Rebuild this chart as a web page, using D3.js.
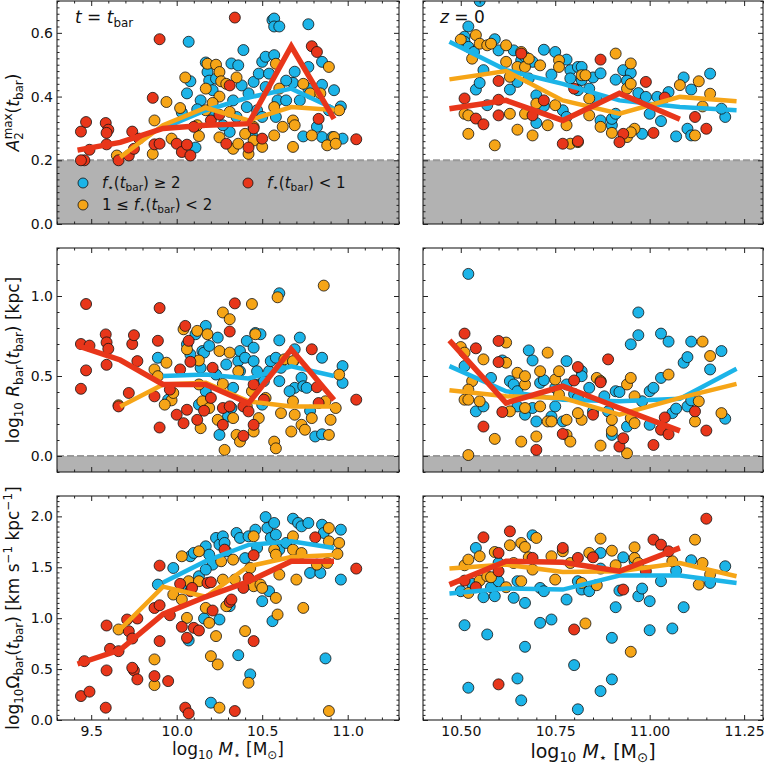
<!DOCTYPE html>
<html>
<head>
<meta charset="utf-8">
<script src="https://cdn.jsdelivr.net/npm/d3@7"></script>
<style>
  body { margin: 0; background: #fff; }
  svg { display: block; font-family: "DejaVu Sans", sans-serif; }
</style>
</head>
<body>
<div id="chart"></div>
<script>
// bin centres of the running medians
var binsTbar = [9.42, 9.67, 9.92, 10.17, 10.42, 10.67, 10.92];
var binsZ0 = [10.47, 10.62, 10.77, 10.92, 11.08, 11.23];

// ---- A2max, t = tbar
var ampTbarBlue = [[10.07,0.572],[10.08,0.448],[10.06,0.41],[10.11,0.24],[10.03,0.35],[10.17,0.507],[10.18,0.477],[10.19,0.45],[10.14,0.388],[10.21,0.42],[10.23,0.456],[10.32,0.504],[10.36,0.498],[10.39,0.546],[10.33,0.388],[10.31,0.289],[10.35,0.336],[10.42,0.41],[10.45,0.446],[10.48,0.472],[10.50,0.509],[10.47,0.357],[10.52,0.525],[10.54,0.472],[10.52,0.43],[10.56,0.64],[10.57,0.645],[10.57,0.62],[10.6,0.62],[10.57,0.53],[10.59,0.388],[10.58,0.336],[10.64,0.388],[10.68,0.443],[10.69,0.478],[10.72,0.388],[10.74,0.275],[10.77,0.627],[10.77,0.493],[10.77,0.425],[10.85,0.509],[10.85,0.437],[10.82,0.305],[10.85,0.273],[10.92,0.42],[10.91,0.273],[10.97,0.268],[10.89,0.357],[10.96,0.369],[10.44,0.28],[10.41,0.367],[10.5,0.336],[10.64,0.45],[10.21,0.352],[10.27,0.31],[10.38,0.435],[10.12,0.36]];
var ampTbarOrange = [[9.65,0.215],[9.86,0.22],[9.87,0.325],[9.94,0.383],[10.02,0.364],[10.05,0.46],[9.97,0.268],[10.13,0.276],[10.17,0.425],[10.18,0.503],[10.23,0.5],[10.25,0.477],[10.26,0.448],[10.29,0.44],[10.25,0.4],[10.31,0.352],[10.25,0.272],[10.33,0.236],[10.35,0.46],[10.36,0.252],[10.40,0.283],[10.42,0.22],[10.45,0.262],[10.5,0.242],[10.57,0.278],[10.58,0.503],[10.60,0.425],[10.57,0.367],[10.62,0.305],[10.68,0.242],[10.68,0.325],[10.69,0.31],[10.74,0.44],[10.78,0.41],[10.79,0.278],[10.84,0.41],[10.89,0.493],[10.88,0.247],[10.92,0.273],[10.93,0.252],[10.95,0.357],[10.45,0.305],[10.17,0.357],[10.12,0.31],[10.21,0.38]];
var ampTbarRed = [[9.44,0.29],[9.47,0.32],[9.46,0.20],[9.44,0.20],[9.49,0.233],[9.585,0.317],[9.60,0.296],[9.59,0.286],[9.59,0.25],[9.66,0.20],[9.72,0.215],[9.74,0.29],[9.75,0.236],[9.78,0.268],[9.86,0.396],[9.90,0.58],[9.87,0.25],[9.90,0.252],[10.0,0.252],[10.03,0.226],[10.08,0.215],[10.06,0.249],[10.10,0.305],[10.2,0.325],[10.25,0.343],[10.34,0.648],[10.31,0.435],[10.29,0.252],[10.42,0.24],[10.5,0.268],[10.45,0.30],[10.79,0.558],[10.82,0.54],[10.83,0.33],[11.05,0.266]];
var ampTbarBlueMed = [null, null, 0.30, 0.357, 0.397, 0.425, 0.362];
var ampTbarOrangeMed = [null, 0.21, 0.31, 0.365, 0.325, 0.367, 0.358];
var ampTbarRedMed = [0.232, 0.256, 0.30, 0.31, 0.315, 0.558, 0.33];

// ---- A2max, z = 0
var ampZ0Blue = [[10.55,0.70],[10.52,0.62],[10.51,0.588],[10.51,0.572],[10.52,0.556],[10.535,0.54],[10.59,0.58],[10.60,0.545],[10.56,0.483],[10.54,0.422],[10.55,0.443],[10.57,0.373],[10.63,0.422],[10.64,0.545],[10.66,0.514],[10.67,0.525],[10.69,0.509],[10.65,0.446],[10.68,0.457],[10.70,0.404],[10.72,0.547],[10.70,0.317],[10.72,0.37],[10.74,0.469],[10.75,0.54],[10.78,0.516],[10.77,0.357],[10.79,0.483],[10.79,0.457],[10.81,0.493],[10.82,0.493],[10.82,0.452],[10.85,0.46],[10.87,0.473],[10.84,0.425],[10.86,0.39],[10.87,0.325],[10.90,0.31],[10.9,0.33],[10.91,0.346],[10.91,0.453],[10.93,0.483],[10.95,0.474],[10.94,0.45],[10.97,0.411],[10.98,0.283],[10.99,0.399],[11.0,0.346],[11.02,0.399],[11.03,0.323],[11.05,0.414],[11.07,0.275],[11.09,0.46],[11.11,0.422],[11.1,0.299],[11.11,0.278],[11.16,0.472],[11.2,0.336],[11.19,0.362],[10.81,0.42],[10.78,0.336]];
var ampZ0Orange = [[10.5,0.579],[10.54,0.593],[10.55,0.566],[10.57,0.561],[10.58,0.566],[10.53,0.519],[10.62,0.561],[10.62,0.509],[10.63,0.462],[10.65,0.493],[10.67,0.493],[10.66,0.54],[10.68,0.519],[10.71,0.498],[10.76,0.514],[10.76,0.493],[10.51,0.346],[10.52,0.341],[10.52,0.283],[10.59,0.247],[10.63,0.346],[10.65,0.296],[10.67,0.346],[10.69,0.278],[10.7,0.378],[10.73,0.31],[10.75,0.373],[10.78,0.31],[10.82,0.467],[10.83,0.467],[10.84,0.341],[10.87,0.305],[10.90,0.286],[10.91,0.535],[10.94,0.425],[10.95,0.504],[10.95,0.44],[10.94,0.273],[10.96,0.299],[10.95,0.288],[10.79,0.252],[10.81,0.257],[11.08,0.436],[11.13,0.448],[11.12,0.278],[11.16,0.409],[11.14,0.369],[10.84,0.394]];
var ampZ0Red = [[10.51,0.394],[10.54,0.331],[10.56,0.313],[10.60,0.449],[10.60,0.39],[10.60,0.341],[10.66,0.535],[10.72,0.388],[10.69,0.341],[10.77,0.252],[10.81,0.26],[10.8,0.425],[10.87,0.516],[10.93,0.283],[10.92,0.257],[10.99,0.446],[11.01,0.286],[11.04,0.397],[11.12,0.336],[11.15,0.299]];
var ampZ0BlueMed = [0.572, 0.483, 0.44, 0.388, 0.367, 0.357];
var ampZ0OrangeMed = [0.454, 0.48, 0.388, 0.346, 0.399, 0.385];
var ampZ0RedMed = [0.362, 0.388, 0.325, 0.41, 0.329, null];

// ---- log Rbar, t = tbar
var radTbarBlue = [[9.89,0.614],[9.95,0.352],[10.06,0.698],[10.08,0.635],[10.11,0.761],[10.14,0.551],[10.17,0.813],[10.15,0.656],[10.16,0.646],[10.19,0.688],[10.13,0.321],[10.17,0.405],[10.25,0.132],[10.24,0.74],[10.23,0.509],[10.29,0.572],[10.3,0.247],[10.32,0.3],[10.33,0.426],[10.36,0.593],[10.37,0.656],[10.4,0.614],[10.41,0.719],[10.46,0.769],[10.45,0.677],[10.45,0.593],[10.47,0.53],[10.48,0.447],[10.49,0.761],[10.5,0.321],[10.51,0.468],[10.54,0.53],[10.55,0.593],[10.58,0.614],[10.6,1.017],[10.6,0.723],[10.6,0.468],[10.61,0.551],[10.68,0.589],[10.69,0.667],[10.69,0.426],[10.72,0.74],[10.73,0.489],[10.74,0.436],[10.76,0.426],[10.81,0.122],[10.85,0.136],[10.85,0.614],[10.97,0.562],[10.97,0.457],[10.78,0.283],[10.66,0.405],[10.37,0.53]];
var radTbarOrange = [[9.66,0.317],[9.87,0.541],[9.89,0.499],[9.94,0.583],[9.97,0.348],[10.04,0.792],[10.06,0.667],[10.12,0.782],[10.13,0.597],[10.15,0.342],[10.18,0.761],[10.14,0.174],[10.19,0.3],[10.24,0.226],[10.25,0.656],[10.27,0.897],[10.27,0.451],[10.31,0.855],[10.31,0.646],[10.28,0.038],[10.33,0.237],[10.35,0.132],[10.36,0.53],[10.37,0.09],[10.41,0.31],[10.44,0.405],[10.44,0.95],[10.46,0.761],[10.45,0.153],[10.48,0.237],[10.52,0.363],[10.57,0.09],[10.58,0.048],[10.59,0.992],[10.63,0.604],[10.61,0.268],[10.67,0.153],[10.68,0.342],[10.69,0.258],[10.73,0.195],[10.75,0.164],[10.79,0.237],[10.86,1.065],[10.87,0.342],[10.89,0.132],[10.9,0.226],[10.93,0.3],[10.95,0.509],[10.68,0.593],[10.13,0.447],[9.98,0.394],[9.93,0.321]];
var radTbarRed = [[9.44,0.70],[9.47,0.95],[9.49,0.69],[9.47,0.535],[9.44,0.42],[9.585,0.76],[9.59,0.71],[9.60,0.67],[9.59,0.57],[9.66,0.31],[9.72,0.394],[9.74,0.70],[9.75,0.755],[9.77,0.593],[9.87,0.373],[9.89,0.72],[9.90,0.925],[9.90,0.178],[9.96,0.415],[10.02,0.541],[10.0,0.258],[10.04,0.205],[10.05,0.813],[10.07,0.72],[10.08,0.589],[10.06,0.289],[10.12,0.226],[10.16,0.283],[10.2,0.363],[10.21,0.551],[10.27,0.195],[10.27,0.30],[10.31,0.31],[10.31,0.778],[10.34,0.954],[10.39,0.126],[10.39,0.31],[10.42,0.279],[10.45,0.447],[10.45,0.195],[10.51,0.352],[10.79,0.667],[10.82,0.43],[10.83,0.331],[11.05,0.352]];
var radTbarBlueMed = [null, null, 0.50, 0.51, 0.485, 0.56, 0.50];
var radTbarOrangeMed = [null, 0.31, 0.447, 0.457, 0.342, 0.31, 0.31];
var radTbarRedMed = [0.69, 0.60, 0.447, 0.447, 0.33, 0.667, 0.35];

// ---- log Rbar, z = 0
var radZ0Blue = [[10.52,1.138],[10.51,0.562],[10.54,0.279],[10.56,0.31],[10.58,0.488],[10.61,0.597],[10.63,0.468],[10.64,0.447],[10.65,0.31],[10.65,0.405],[10.67,0.258],[10.68,0.66],[10.69,0.597],[10.7,0.216],[10.71,0.457],[10.72,0.474],[10.74,0.247],[10.75,0.31],[10.77,0.216],[10.78,0.593],[10.78,0.447],[10.8,0.388],[10.82,0.53],[10.82,0.499],[10.84,0.426],[10.85,0.279],[10.87,0.468],[10.88,0.373],[10.89,0.279],[10.9,0.132],[10.91,0.405],[10.92,0.4],[10.94,0.184],[10.95,0.698],[10.97,0.897],[10.97,0.755],[10.98,0.342],[11.0,0.405],[11.0,0.195],[11.01,0.426],[11.03,0.488],[11.03,0.765],[11.05,0.715],[11.06,0.268],[11.07,0.296],[11.09,0.583],[11.1,0.618],[11.1,0.31],[11.11,0.348],[11.11,0.715],[11.16,0.541],[11.19,0.656],[11.2,0.233],[10.69,0.3],[10.75,0.426],[10.81,0.363]];
var radZ0Orange = [[10.5,0.681],[10.51,0.646],[10.53,0.468],[10.52,0.415],[10.51,0.352],[10.52,0.352],[10.52,0.006],[10.55,0.342],[10.56,0.604],[10.59,0.107],[10.62,0.709],[10.62,0.583],[10.63,0.279],[10.65,0.52],[10.66,0.09],[10.67,0.447],[10.67,0.3],[10.67,0.499],[10.7,0.122],[10.71,0.53],[10.71,0.31],[10.73,0.216],[10.73,0.646],[10.74,0.216],[10.75,0.478],[10.76,0.53],[10.76,0.384],[10.78,0.226],[10.78,0.132],[10.79,0.09],[10.82,0.226],[10.86,0.488],[10.87,0.065],[10.87,0.468],[10.9,0.226],[10.9,0.157],[10.94,0.447],[10.95,0.237],[10.94,0.017],[10.95,0.488],[10.96,0.373],[10.96,0.205],[11.05,0.509],[11.12,0.216],[11.13,0.342],[11.14,0.715],[11.16,0.625],[11.19,0.268],[10.81,0.268]];
var radZ0Red = [[10.51,0.765],[10.54,0.673],[10.56,0.184],[10.6,0.719],[10.6,0.587],[10.61,0.275],[10.7,0.038],[10.77,0.138],[10.8,0.472],[10.81,0.556],[10.85,0.258],[10.87,0.461],[10.89,0.604],[10.92,0.059],[10.93,0.111],[11.01,0.069],[11.03,0.164],[11.04,0.241],[11.05,0.136],[11.12,0.279],[11.15,0.159]];
var radZ0BlueMed = [0.562, 0.405, 0.352, 0.342, 0.358, 0.545];
var radZ0OrangeMed = [0.411, 0.373, 0.363, 0.258, 0.363, 0.451];
var radZ0RedMed = [0.723, 0.331, 0.436, 0.30, 0.157, null];

// ---- log Omega_bar, t = tbar
var omgTbarBlue = [[9.89,1.33],[9.98,1.493],[10.07,0.781],[10.08,1.608],[10.1,1.641],[10.16,0.997],[10.2,0.17],[10.17,1.706],[10.19,1.624],[10.23,1.788],[10.25,1.722],[10.27,1.804],[10.28,1.739],[10.29,1.657],[10.21,1.526],[10.25,0.987],[10.31,1.118],[10.35,1.837],[10.37,1.788],[10.36,0.637],[10.42,1.804],[10.43,0.448],[10.46,1.869],[10.47,1.69],[10.5,1.167],[10.52,1.993],[10.53,1.886],[10.55,1.788],[10.57,1.935],[10.56,0.971],[10.58,1.82],[10.54,1.265],[10.6,1.673],[10.68,1.977],[10.71,1.935],[10.73,1.902],[10.77,1.935],[10.78,1.444],[10.84,1.444],[10.85,1.918],[10.86,1.837],[10.87,0.605],[10.96,1.869],[10.96,1.379],[10.13,1.412],[10.07,1.297],[10.17,1.477],[10.4,1.59],[10.64,1.739]];
var omgTbarOrange = [[9.66,0.889],[9.87,0.595],[9.87,0.343],[9.98,1.232],[10.03,1.608],[10.06,1.003],[10.07,1.363],[10.13,1.657],[10.13,1.363],[10.17,1.101],[10.19,0.954],[10.2,0.627],[10.23,0.824],[10.24,0.546],[10.25,0.121],[10.26,1.559],[10.27,1.379],[10.29,1.118],[10.33,1.575],[10.34,1.379],[10.4,0.873],[10.42,0.366],[10.43,1.493],[10.45,1.804],[10.45,1.314],[10.49,1.33],[10.5,1.297],[10.57,1.673],[10.58,1.624],[10.58,1.199],[10.59,1.036],[10.6,1.428],[10.68,1.804],[10.68,1.673],[10.7,1.379],[10.74,1.101],[10.73,1.64],[10.82,1.526],[10.89,1.886],[10.89,1.755],[10.89,0.088],[10.95,1.739],[10.94,1.631],[10.88,1.542],[10.03,1.183]];
var omgTbarRed = [[9.44,0.235],[9.46,0.578],[9.49,0.278],[9.585,0.121],[9.59,0.487],[9.59,0.928],[9.61,0.699],[9.66,0.676],[9.71,0.987],[9.72,0.872],[9.74,0.8],[9.75,0.487],[9.74,0.513],[9.77,0.997],[9.77,0.399],[9.87,0.431],[9.87,1.10],[9.90,1.127],[9.90,1.516],[9.90,0.775],[9.95,0.382],[9.96,1.029],[10.02,1.337],[10.03,0.915],[10.05,0.121],[10.07,0.065],[10.06,0.807],[10.08,1.265],[10.09,1.297],[10.1,0.905],[10.13,0.879],[10.18,1.346],[10.2,1.353],[10.21,1.075],[10.28,1.673],[10.31,1.16],[10.32,1.183],[10.34,0.088],[10.39,1.297],[10.42,1.395],[10.45,1.618],[10.45,0.775],[10.81,1.794],[11.05,1.487]];
var omgTbarBlueMed = [null, null, 1.35, 1.56, 1.72, 1.755, 1.69];
var omgTbarOrangeMed = [null, 0.89, 1.31, 1.21, 1.51, 1.60, 1.62];
var omgTbarRedMed = [0.55, 0.69, 1.04, 1.21, 1.36, 1.56, 1.56];

// ---- log Omega_bar, z = 0
var omgZ0Blue = [[10.51,0.931],[10.52,0.317],[10.54,1.69],[10.53,1.337],[10.56,1.206],[10.57,0.84],[10.58,1.304],[10.59,1.216],[10.6,1.363],[10.64,1.2],[10.65,0.408],[10.66,0.193],[10.67,0.719],[10.67,1.15],[10.69,1.814],[10.71,0.954],[10.71,1.297],[10.72,1.265],[10.74,0.987],[10.78,1.183],[10.8,0.539],[10.81,1.363],[10.81,0.105],[10.82,1.281],[10.84,1.265],[10.87,0.284],[10.87,1.641],[10.87,1.487],[10.9,0.807],[10.9,0.399],[10.91,1.108],[10.92,1.271],[10.93,1.598],[10.96,1.559],[10.97,1.216],[10.98,1.291],[11.0,1.167],[11.0,0.882],[11.03,1.363],[11.06,0.899],[11.07,1.467],[11.09,1.108],[11.11,1.569],[11.16,1.346],[11.2,1.51],[10.65,1.363],[10.6,1.542],[10.5,1.265]];
var omgZ0Orange = [[10.51,1.52],[10.52,1.575],[10.52,1.248],[10.55,1.369],[10.57,1.412],[10.58,1.402],[10.59,1.65],[10.62,1.304],[10.63,1.716],[10.64,1.542],[10.66,1.739],[10.66,1.363],[10.67,1.699],[10.68,1.598],[10.7,1.788],[10.69,1.477],[10.74,1.608],[10.75,1.379],[10.77,1.657],[10.79,1.542],[10.83,0.948],[10.82,1.346],[10.84,1.641],[10.86,1.324],[10.87,1.781],[10.9,1.663],[10.91,1.52],[10.95,0.67],[10.96,1.696],[10.96,1.591],[10.97,1.542],[11.12,1.771],[11.13,1.33],[11.14,1.542],[11.16,1.428],[11.06,1.559],[10.55,1.608]];
var omgZ0Red = [[10.51,1.369],[10.54,1.304],[10.56,1.794],[10.6,1.461],[10.6,1.641],[10.6,0.35],[10.63,1.853],[10.69,1.592],[10.77,1.69],[10.8,0.889],[10.81,1.592],[10.85,1.598],[10.93,1.281],[10.99,1.461],[11.01,1.771],[11.03,1.722],[11.05,1.657],[11.15,1.977]];
var omgZ0BlueMed = [1.242, 1.291, 1.281, 1.418, 1.418, 1.346];
var omgZ0OrangeMed = [1.487, 1.526, 1.454, 1.461, 1.542, 1.412];
var omgZ0RedMed = [1.33, 1.559, 1.549, 1.461, 1.69, null];

// tick values
var xTicksTbar = [9.5, 10.0, 10.5, 11.0];
var xTicksZ0 = [10.5, 10.75, 11.0, 11.25];
var yTicksAmp = [0.0, 0.2, 0.4, 0.6];
var yTicksRad = [0.0, 0.5, 1.0];
var yTicksOmg = [0.0, 0.5, 1.0, 1.5, 2.0];

var colBlue = "#1cb4e8", colOrange = "#f6a517", colRed = "#e8361a";

var width = 765, height = 768;
var svg = d3.select("#chart").append("svg")
  .attr("width", width).attr("height", height);

var cols = [
  { x0: 57, x1: 399, dom: [9.3, 11.3], major: xTicksTbar, minor: 0.1, fmt: d3.format(".1f"), bins: binsTbar },
  { x0: 423, x1: 763, dom: [10.4, 11.3], major: xTicksZ0, minor: 0.05, fmt: d3.format(".2f"), bins: binsZ0 }
];
var rows = [
  { y0: 1, y1: 224, dom: [0, 0.7], major: yTicksAmp, minor: 0.02, shade: 0.2 },
  { y0: 248, y1: 472, dom: [-0.1, 1.3], major: yTicksRad, minor: 0.1, shade: 0.0 },
  { y0: 496, y1: 720, dom: [0, 2.2], major: yTicksOmg, minor: 0.05, shade: null }
];

var panels = [
  { c: 0, r: 0, pts: [ampTbarBlue, ampTbarOrange, ampTbarRed], med: [ampTbarBlueMed, ampTbarOrangeMed, ampTbarRedMed] },
  { c: 1, r: 0, pts: [ampZ0Blue, ampZ0Orange, ampZ0Red], med: [ampZ0BlueMed, ampZ0OrangeMed, ampZ0RedMed] },
  { c: 0, r: 1, pts: [radTbarBlue, radTbarOrange, radTbarRed], med: [radTbarBlueMed, radTbarOrangeMed, radTbarRedMed] },
  { c: 1, r: 1, pts: [radZ0Blue, radZ0Orange, radZ0Red], med: [radZ0BlueMed, radZ0OrangeMed, radZ0RedMed] },
  { c: 0, r: 2, pts: [omgTbarBlue, omgTbarOrange, omgTbarRed], med: [omgTbarBlueMed, omgTbarOrangeMed, omgTbarRedMed] },
  { c: 1, r: 2, pts: [omgZ0Blue, omgZ0Orange, omgZ0Red], med: [omgZ0BlueMed, omgZ0OrangeMed, omgZ0RedMed] }
];
var colors = [colBlue, colOrange, colRed];

function minorTicks(dom, step, major) {
  var out = [];
  var n0 = Math.ceil(dom[0] / step - 1e-6), n1 = Math.floor(dom[1] / step + 1e-6);
  for (var i = n0; i <= n1; i++) {
    var v = +(i * step).toFixed(4);
    if (!major.some(function(m) { return Math.abs(m - v) < 1e-6; })) out.push(v);
  }
  return out;
}

function styleAxis(g) {
  g.select(".domain").remove();
  g.attr("font-family", null).attr("font-size", 14);
  g.selectAll("line").attr("stroke", "#222").attr("stroke-width", 1);
  g.selectAll("text").attr("fill", "#111");
}

panels.forEach(function(p, i) {
  var c = cols[p.c], r = rows[p.r];
  var x = d3.scaleLinear().domain(c.dom).range([c.x0, c.x1]);
  var y = d3.scaleLinear().domain(r.dom).range([r.y1, r.y0]);
  var g = svg.append("g");

  g.append("clipPath").attr("id", "clip" + i)
    .append("rect").attr("x", c.x0).attr("y", r.y0)
    .attr("width", c.x1 - c.x0).attr("height", r.y1 - r.y0);
  var plot = g.append("g").attr("clip-path", "url(#clip" + i + ")");

  // grey "no bar" zone
  if (r.shade !== null) {
    plot.append("rect")
      .attr("x", c.x0).attr("width", c.x1 - c.x0)
      .attr("y", y(r.shade)).attr("height", r.y1 - y(r.shade))
      .attr("fill", "#b2b2b2");
    plot.append("line")
      .attr("x1", c.x0).attr("x2", c.x1)
      .attr("y1", y(r.shade)).attr("y2", y(r.shade))
      .attr("stroke", "#999").attr("stroke-width", 2)
      .attr("stroke-dasharray", "7,3");
  }

  // scatter
  p.pts.forEach(function(arr, k) {
    plot.selectAll(null).data(arr).enter().append("circle")
      .attr("cx", function(d) { return x(d[0]); })
      .attr("cy", function(d) { return y(d[1]); })
      .attr("r", 5.5)
      .attr("fill", colors[k])
      .attr("stroke", "#111")
      .attr("stroke-width", 0.8);
  });

  // running medians
  var line = d3.line()
    .defined(function(d) { return d[1] !== null; })
    .x(function(d) { return x(d[0]); })
    .y(function(d) { return y(d[1]); });
  p.med.forEach(function(arr, k) {
    var pts = c.bins.map(function(b, j) { return [b, arr[j]]; });
    plot.append("path").datum(pts)
      .attr("d", line)
      .attr("fill", "none")
      .attr("stroke", colors[k])
      .attr("stroke-width", k === 2 ? 5.5 : 4.5)
      .attr("stroke-linejoin", "miter")
      .attr("stroke-linecap", "butt");
  });

  // frame
  g.append("rect")
    .attr("x", c.x0).attr("y", r.y0)
    .attr("width", c.x1 - c.x0).attr("height", r.y1 - r.y0)
    .attr("fill", "none").attr("stroke", "#222").attr("stroke-width", 1.1);

  var xMinor = minorTicks(c.dom, c.minor, c.major);
  var yMinor = minorTicks(r.dom, r.minor, r.major);
  var showX = p.r === 2, showY = p.c === 0;

  // bottom + top ticks
  g.append("g").attr("transform", "translate(0," + r.y1 + ")")
    .call(d3.axisBottom(x).tickValues(c.major).tickSize(-5).tickPadding(6)
      .tickFormat(showX ? c.fmt : function() { return ""; }))
    .call(styleAxis);
  g.append("g").attr("transform", "translate(0," + r.y1 + ")")
    .call(d3.axisBottom(x).tickValues(xMinor).tickSize(-2.5).tickFormat(""))
    .call(styleAxis);
  g.append("g").attr("transform", "translate(0," + r.y0 + ")")
    .call(d3.axisTop(x).tickValues(c.major).tickSize(-5).tickFormat(""))
    .call(styleAxis);
  g.append("g").attr("transform", "translate(0," + r.y0 + ")")
    .call(d3.axisTop(x).tickValues(xMinor).tickSize(-2.5).tickFormat(""))
    .call(styleAxis);

  // left + right ticks
  g.append("g").attr("transform", "translate(" + c.x0 + ",0)")
    .call(d3.axisLeft(y).tickValues(r.major).tickSize(-5).tickPadding(4)
      .tickFormat(showY ? d3.format(".1f") : function() { return ""; }))
    .call(styleAxis);
  g.append("g").attr("transform", "translate(" + c.x0 + ",0)")
    .call(d3.axisLeft(y).tickValues(yMinor).tickSize(-2.5).tickFormat(""))
    .call(styleAxis);
  g.append("g").attr("transform", "translate(" + c.x1 + ",0)")
    .call(d3.axisRight(y).tickValues(r.major).tickSize(-5).tickFormat(""))
    .call(styleAxis);
  g.append("g").attr("transform", "translate(" + c.x1 + ",0)")
    .call(d3.axisRight(y).tickValues(yMinor).tickSize(-2.5).tickFormat(""))
    .call(styleAxis);
});

// mathtext-like labels built from tspans
function rich(textSel, parts, size) {
  var cur = 0;
  parts.forEach(function(p) {
    var fs = p.s ? size * 0.7 : size;
    var target = p.s === "sub" ? size * 0.22 : (p.s === "sup" ? -size * 0.42 : 0);
    var ts = textSel.append("tspan").text(p.t)
      .attr("font-size", fs)
      .attr("dy", target - cur);
    if (p.it) ts.attr("font-style", "italic");
    if (p.dx) ts.attr("dx", p.dx);
    cur = target;
  });
  return textSel;
}

function ylabel(yc, parts, size) {
  var t = svg.append("text")
    .attr("transform", "translate(19," + yc + ") rotate(-90)")
    .attr("text-anchor", "middle").attr("fill", "#111");
  rich(t, parts, size);
}

ylabel((rows[0].y0 + rows[0].y1) / 2, [
  { t: "A", it: true }, { t: "2", s: "sub" }, { t: "max", s: "sup", dx: -7.2 },
  { t: "(" }, { t: "t", it: true }, { t: "bar", s: "sub" }, { t: ")" }
], 17);
ylabel((rows[1].y0 + rows[1].y1) / 2, [
  { t: "log" }, { t: "10", s: "sub" }, { t: " " }, { t: "R", it: true }, { t: "bar", s: "sub" },
  { t: "(" }, { t: "t", it: true }, { t: "bar", s: "sub" }, { t: ") [kpc]" }
], 17);
ylabel((rows[2].y0 + rows[2].y1) / 2, [
  { t: "log" }, { t: "10", s: "sub" }, { t: "Ω" }, { t: "bar", s: "sub" },
  { t: "(" }, { t: "t", it: true }, { t: "bar", s: "sub" }, { t: ") [km s" },
  { t: "−1", s: "sup" }, { t: " kpc" }, { t: "−1", s: "sup" }, { t: "]" }
], 17);

function xlabel(xc, yb, size) {
  var t = svg.append("text").attr("x", xc).attr("y", yb)
    .attr("text-anchor", "middle").attr("fill", "#111");
  rich(t, [
    { t: "log" }, { t: "10", s: "sub" }, { t: " " }, { t: "M", it: true }, { t: "⋆", s: "sub" },
    { t: " [M" }, { t: "⊙", s: "sub" }, { t: "]" }
  ], size);
}
xlabel((cols[0].x0 + cols[0].x1) / 2, 755, 17);
xlabel((cols[1].x0 + cols[1].x1) / 2, 758, 19);

// panel annotations
rich(svg.append("text").attr("x", 75).attr("y", 23).attr("fill", "#111"),
  [{ t: "t", it: true }, { t: " = " }, { t: "t", it: true }, { t: "bar", s: "sub" }], 17);
rich(svg.append("text").attr("x", 440).attr("y", 23).attr("fill", "#111"),
  [{ t: "z", it: true }, { t: " = 0" }], 17);

// legend
var legendItems = [
  { x: 83, y: 183, color: colBlue, parts: [{ t: "f", it: true }, { t: "⋆", s: "sub" }, { t: "(" }, { t: "t", it: true }, { t: "bar", s: "sub" }, { t: ") ≥ 2" }] },
  { x: 83, y: 205, color: colOrange, parts: [{ t: "1 ≤ " }, { t: "f", it: true }, { t: "⋆", s: "sub" }, { t: "(" }, { t: "t", it: true }, { t: "bar", s: "sub" }, { t: ") < 2" }] },
  { x: 248, y: 183, color: colRed, parts: [{ t: "f", it: true }, { t: "⋆", s: "sub" }, { t: "(" }, { t: "t", it: true }, { t: "bar", s: "sub" }, { t: ") < 1" }] }
];
legendItems.forEach(function(it) {
  svg.append("circle").attr("cx", it.x).attr("cy", it.y).attr("r", 5)
    .attr("fill", it.color).attr("stroke", "#111").attr("stroke-width", 0.8);
  rich(svg.append("text").attr("x", it.x + 19).attr("y", it.y + 5).attr("fill", "#111"), it.parts, 15);
});
</script>
</body>
</html>
